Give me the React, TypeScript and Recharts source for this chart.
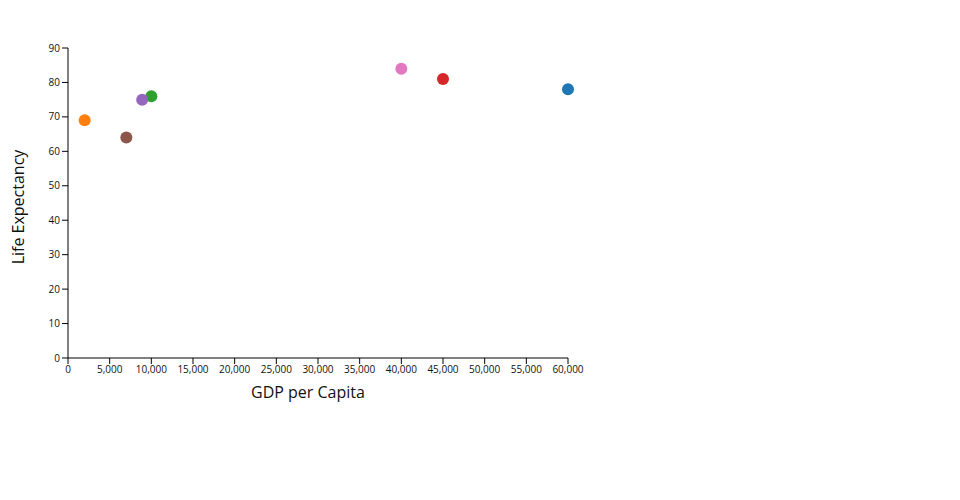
import { ScatterChart, Scatter, XAxis, YAxis, Cell, Label } from 'recharts';

const countries = ['A', 'B', 'C', 'D', 'E', 'F', 'G'];
const gdpPerCapita = [60000, 2000, 10000, 45000, 8900, 7000, 40000];
const lifeExpectancy = [78, 69, 76, 81, 75, 64, 84];
const colors = ['#1f77b4', '#ff7f0e', '#2ca02c', '#d62728', '#9467bd', '#8c564b', '#e377c2'];

const xTicks = [0, 5000, 10000, 15000, 20000, 25000, 30000, 35000, 40000, 45000, 50000, 55000, 60000];
const yTicks = [0, 10, 20, 30, 40, 50, 60, 70, 80, 90];

const data = countries.map((name, i) => ({
  name,
  gdp: gdpPerCapita[i],
  life: lifeExpectancy[i],
}));

const font = "'Open Sans', sans-serif";

// plain circle, radius 6
const Dot = (props: any) => <circle cx={props.cx} cy={props.cy} r={6} fill={props.fill} />;

function App() {
  return (
    <div style={{ position: 'absolute', left: 0, top: 0, fontFamily: font }}>
      <ScatterChart width={960} height={500} margin={{ top: 48, right: 392, bottom: 0, left: 0 }}>
        <XAxis
          type='number'
          dataKey='gdp'
          domain={[0, 60000]}
          ticks={xTicks}
          height={142}
          tickSize={6}
          tickFormatter={(v: number) => v.toLocaleString('en-US')}
          tick={{ fontSize: 10, fill: '#111', stroke: 'none', fontFamily: font }}
          tickLine={{ stroke: '#000' }}
          stroke='#000'
          interval={0}
        >
          <Label
            content={() => (
              <text x={308} y={398} textAnchor='middle' fontSize={16} fill='#111' fontFamily={font}>
                GDP per Capita
              </text>
            )}
          />
        </XAxis>
        <YAxis
          type='number'
          dataKey='life'
          domain={[0, 90]}
          ticks={yTicks}
          width={68}
          tickSize={6}
          tick={{ fontSize: 10, fill: '#111', stroke: 'none', fontFamily: font }}
          tickLine={{ stroke: '#000' }}
          stroke='#000'
          interval={0}
        >
          <Label
            content={() => (
              <text
                x={24}
                y={207}
                textAnchor='middle'
                fontSize={16}
                fill='#111'
                fontFamily={font}
                transform='rotate(-90 24 207)'
              >
                Life Expectancy
              </text>
            )}
          />
        </YAxis>
        <Scatter data={data} isAnimationActive={false} shape={Dot}>
          {data.map((d, i) => (
            <Cell key={d.name} fill={colors[i]} />
          ))}
        </Scatter>
      </ScatterChart>
    </div>
  );
}

export default App;
